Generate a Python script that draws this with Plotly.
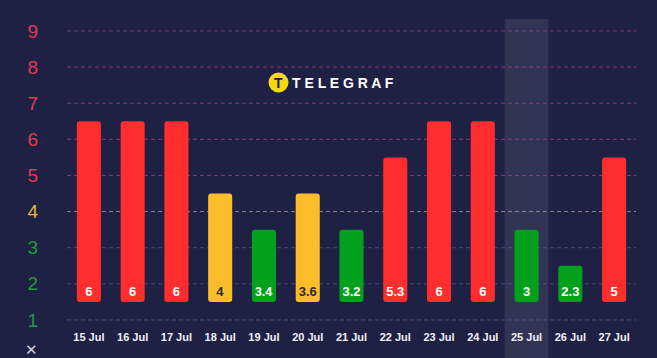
import plotly.graph_objects as go

# ---- data ----
dates = ["15 Jul", "16 Jul", "17 Jul", "18 Jul", "19 Jul", "20 Jul", "21 Jul",
         "22 Jul", "23 Jul", "24 Jul", "25 Jul", "26 Jul", "27 Jul"]
values = [6, 6, 6, 4, 3.4, 3.6, 3.2, 5.3, 6, 6, 3, 2.3, 5]
levels = [6, 6, 6, 4, 3, 4, 3, 5, 6, 6, 3, 2, 5]
value_labels = ["6", "6", "6", "4", "3.4", "3.6", "3.2", "5.3", "6", "6", "3", "2.3", "5"]
y_ticks = [1, 2, 3, 4, 5, 6, 7, 8, 9]
highlight_date = "25 Jul"
bar_base = 1.5

# ---- styling ----
BG = "#1e2044"
RED = "#ff2d2d"
YELLOW = "#fbbd2a"
GREEN = "#03a01b"
TICK_RED = "#e23a52"
TICK_YELLOW = "#f0b532"
TICK_GREEN = "#1d9b3a"

W, H = 657, 358
ML, MR, MT, MB = 67, 21, 19, 29
PW, PH = W - ML - MR, H - MT - MB


def px(x):
    return (x - ML) / PW


def py(y):
    return (H - MB - y) / PH


def level_color(l):
    if l >= 5:
        return RED
    if l == 4:
        return YELLOW
    return GREEN


def tick_color(l):
    if l >= 5:
        return TICK_RED
    if l == 4:
        return TICK_YELLOW
    return TICK_GREEN


def grid_color(l):
    if l >= 5:
        return "rgba(180,60,140,0.75)"
    if l == 4:
        return "rgba(205,200,185,0.6)"
    return "rgba(95,105,160,0.6)"


bar_colors = [level_color(l) for l in levels]
text_colors = ["#2a2a2a" if l == 4 else "#ffffff" for l in levels]
heights = [l + 0.5 - bar_base for l in levels]

fig = go.Figure()
fig.add_trace(go.Bar(
    x=dates,
    y=heights,
    base=bar_base,
    width=0.55,
    marker=dict(color=bar_colors, line=dict(width=0), cornerradius=3),
    text=value_labels,
    textposition="inside",
    insidetextanchor="start",
    textangle=0,
    textfont=dict(family="Liberation Sans, Arial", size=13, color=text_colors, weight="bold"),
    hoverinfo="skip",
))

shapes = []
# highlighted column
hi = dates.index(highlight_date)
shapes.append(dict(type="rect", xref="x", yref="paper", x0=hi - 0.5, x1=hi + 0.5,
                   y0=-0.12, y1=1.0, fillcolor="rgba(255,255,255,0.09)",
                   line=dict(width=0), layer="below"))
# coloured dashed gridlines
for t in y_ticks:
    shapes.append(dict(type="line", xref="paper", yref="y", x0=0, x1=1, y0=t, y1=t,
                       line=dict(color=grid_color(t), width=1, dash="4px,3px"),
                       layer="below"))
# logo circle
cx, cy, r = 278.5, 82.5, 10
shapes.append(dict(type="circle", xref="paper", yref="paper",
                   x0=px(cx - r), x1=px(cx + r), y0=py(cy + r), y1=py(cy - r),
                   fillcolor="#f5d90f", line=dict(width=0), layer="above"))

annotations = [
    dict(xref="paper", yref="paper", x=px(cx), y=py(cy), text="<b>T</b>", showarrow=False,
         font=dict(family="Liberation Sans, Arial", size=14, color=BG),
         xanchor="center", yanchor="middle"),
    dict(xref="paper", yref="paper", x=px(343), y=py(83),
         text="<b>T E L E G R A F</b>", showarrow=False,
         font=dict(family="Liberation Sans, Arial", size=14, color="#ffffff"),
         xanchor="center", yanchor="middle"),
    dict(xref="paper", yref="paper", x=px(31), y=py(350), text="\u2715", showarrow=False,
         font=dict(family="DejaVu Sans", size=15, color="#d0d0dc"),
         xanchor="center", yanchor="middle"),
]

ticktext = [f"<span style='color:{tick_color(t)}'>{t}</span>" for t in y_ticks]

fig.update_layout(
    width=W, height=H,
    margin=dict(l=ML, r=MR, t=MT, b=MB),
    paper_bgcolor=BG, plot_bgcolor=BG,
    showlegend=False,
    bargap=0.45,
    shapes=shapes,
    annotations=annotations,
    xaxis=dict(
        type="category", showgrid=False, zeroline=False, showline=False, ticks="",
        tickfont=dict(family="Liberation Sans, Arial", size=11, color="#f0f0f5", weight="bold"),
        range=[-0.5, len(dates) - 0.5],
        fixedrange=True,
    ),
    yaxis=dict(
        range=[0.75, 9.33], tickvals=y_ticks, ticktext=ticktext,
        showgrid=False, zeroline=False, showline=False, ticks="",
        ticklabelstandoff=28,
        tickfont=dict(family="Liberation Sans, Arial", size=19),
        fixedrange=True,
    ),
)

fig.write_html(
    "out.html",
    config={"displayModeBar": False},
    post_script="document.body.style.margin='0';document.body.style.background='%s';" % BG,
)
